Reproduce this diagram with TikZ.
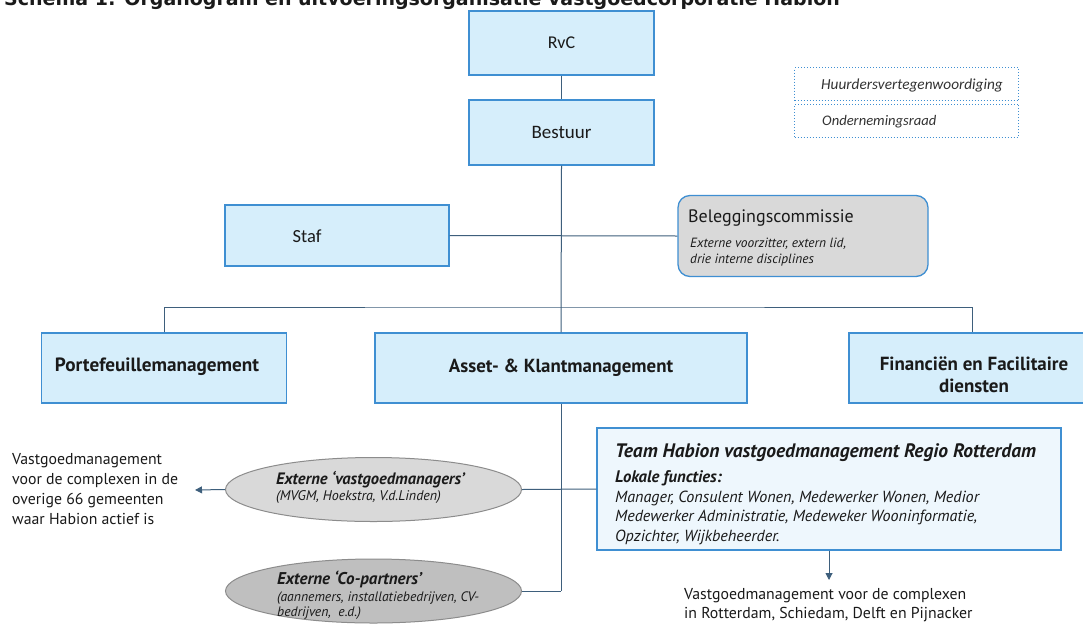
\documentclass[tikz,border=0pt]{standalone}
\usepackage{fontspec}
\setmainfont{PT Sans}
\newfontfamily\titlefont{DejaVu Sans}
\newfontfamily\calfont{Carlito}
\usetikzlibrary{shapes.geometric,arrows.meta}
\definecolor{boxfill}{HTML}{D6EEFB}
\definecolor{boxline}{HTML}{3F8FD2}
\definecolor{connc}{HTML}{3E5F7C}
\definecolor{grayfill}{HTML}{D9D9D9}
\definecolor{darkfill}{HTML}{BFBFBF}
\definecolor{teamfill}{HTML}{EEF7FD}
\definecolor{elline}{HTML}{8C8C8C}
\definecolor{txt}{HTML}{1A1A1A}
\begin{document}
\begin{tikzpicture}[x=1pt,y=-1pt,
  orgbox/.style={draw=boxline, fill=boxfill, line width=1.3pt, inner sep=0pt, rectangle, text=txt},
  conn/.style={draw=connc, line width=1pt},
  dotbox/.style={draw=boxline, dotted, line width=1pt, inner sep=0pt, rectangle},
  ell/.style={ellipse, draw=elline, line width=1pt, inner sep=0pt, minimum width=296pt, minimum height=64pt},
  lbl/.style={inner sep=0pt, text=txt, anchor=west},
]
\useasboundingbox[clip] (0,0) rectangle (1083,624);
\fill[white] (0,0) rectangle (1083,624);

% title (clipped at top, as in the reference)
\node[inner sep=0pt, anchor=base west, text=txt, font=\titlefont\bfseries\fontsize{19}{22}\selectfont] (title) at (4,5) {Schema 1: Organogram en uitvoeringsorganisatie vastgoedcorporatie Habion};

% top boxes
\node[orgbox, minimum width=185pt, minimum height=64pt, font=\calfont\fontsize{18}{21}\selectfont] (rvc) at (561.5,43) {RvC};
\node[orgbox, minimum width=185pt, minimum height=65pt, font=\calfont\fontsize{19}{22}\selectfont] (bestuur) at (561.5,132.5) {Bestuur};

\node[orgbox, minimum width=224pt, minimum height=61pt] (staf) at (337,235.5) {};
\node[lbl, anchor=center, font=\calfont\fontsize{18.5}{21}\selectfont] (staftext) at (307,236) {Staf};

\node[draw=boxline, fill=grayfill, line width=1.3pt, rounded corners=12pt, inner sep=0pt, minimum width=250pt, minimum height=81pt] (beleg) at (803,236) {};
\node[lbl, font=\fontsize{18}{21}\selectfont] (belegtitle) at (688,218) {Beleggingscommissie};
\node[lbl, align=left, anchor=north west, font=\itshape\fontsize{13.4}{16.5}\selectfont] (belegsub) at (690,237.5) {Externe voorzitter, extern lid,\\ drie interne disciplines};

% dotted boxes
\node[dotbox, minimum width=224pt, minimum height=33pt] (huur) at (906.5,84) {};
\node[lbl, anchor=center, text=black!80, font=\calfont\itshape\fontsize{15.3}{17}\selectfont] (huurtext) at (912,85) {Huurdersvertegenwoordiging};
\node[dotbox, minimum width=224pt, minimum height=33pt] (or) at (906.5,120.5) {};
\node[lbl, text=black!80, font=\calfont\itshape\fontsize{14.6}{17}\selectfont] (ortext) at (822,122) {Ondernemingsraad};

% second row
\node[orgbox, minimum width=245pt, minimum height=70pt] (port) at (164,368) {};
\node[lbl, anchor=center, font=\bfseries\fontsize{19.2}{22}\selectfont] (porttext) at (157,367) {Portefeuillemanagement};
\node[orgbox, minimum width=372pt, minimum height=70pt, font=\bfseries\fontsize{18.9}{22}\selectfont] (asset) at (561,368) {Asset- \& Klantmanagement};
\node[orgbox, minimum width=247pt, minimum height=70pt] (fin) at (972.5,368) {};
\node[lbl, anchor=center, align=center, font=\bfseries\fontsize{19}{22}\selectfont] (fintext) at (974,374.5) {Financiën en Facilitaire\\ diensten};

% ellipses
\node[ell, fill=grayfill] (ext1) at (373.5,489.5) {};
\node[lbl, font=\bfseries\itshape\fontsize{16.5}{19}\selectfont] (ext1a) at (276,480) {Externe ‘vastgoedmanagers’};
\node[lbl, font=\itshape\fontsize{14}{16}\selectfont] (ext1b) at (276,497) {(MVGM, Hoekstra, V.d.Linden)};
\node[ell, fill=darkfill] (ext2) at (373.5,591) {};
\node[lbl, font=\bfseries\itshape\fontsize{17}{19}\selectfont] (ext2a) at (277,579.5) {Externe ‘Co-partners’};
\node[lbl, align=left, anchor=north west, font=\itshape\fontsize{13.7}{15}\selectfont] (ext2b) at (277,592) {(aannemers, installatiebedrijven, CV-\\ bedrijven,\ \ e.d.)};

% left note
\node[lbl, align=left, anchor=north west, font=\fontsize{15.8}{20}\selectfont] (leftnote) at (12,453) {Vastgoedmanagement\\ voor de complexen in de\\ overige 66 gemeenten\\ waar Habion actief is};

% team box
\node[draw=boxline, fill=teamfill, line width=1.3pt, inner sep=0pt, minimum width=464pt, minimum height=122pt] (team) at (829,489) {};
\node[lbl, font=\bfseries\itshape\fontsize{19.5}{22}\selectfont] (teamtitle) at (615,452.5) {Team Habion vastgoedmanagement\ Regio Rotterdam};
\node[lbl, font=\bfseries\itshape\fontsize{16.7}{19}\selectfont] (teamsub) at (615,478) {Lokale functies:};
\node[lbl, align=left, anchor=north west, font=\itshape\fontsize{16.1}{19.8}\selectfont] (teamlist) at (615,490.5) {Manager, Consulent Wonen, Medewerker Wonen, Medior\\ Medewerker Administratie, Medeweker Wooninformatie,\\ Opzichter, Wijkbeheerder.};

% bottom note
\node[lbl, align=left, anchor=north west, font=\fontsize{15.8}{19.5}\selectfont] (botnote) at (684,588) {Vastgoedmanagement voor de complexen\\ in Rotterdam, Schiedam, Delft en Pijnacker};

% connectors
\coordinate (bar) at (561,307);
\coordinate (j2) at (561,591);
\coordinate (leftend) at (195,490);
\coordinate (botend) at (829,580);
\draw[conn] (rvc.south) -- (bestuur.north);
\draw[conn] (bestuur.south) -- (asset.north);
\draw[conn] (staf.east) -- (beleg.west);
\draw[conn] (port.north) |- (bar) -| (fin.north);
\draw[conn] (asset.south) -- (j2);
\draw[conn] (ext2.east) -- (j2);
\draw[conn] (ext1.east) -- (team.west);
\draw[conn, -{Triangle[length=7pt,width=7pt]}] (ext1.west) -- (leftend);
\draw[conn, -{Triangle[length=7pt,width=7pt]}] (team.south) -- (botend);
\end{tikzpicture}
\end{document}
